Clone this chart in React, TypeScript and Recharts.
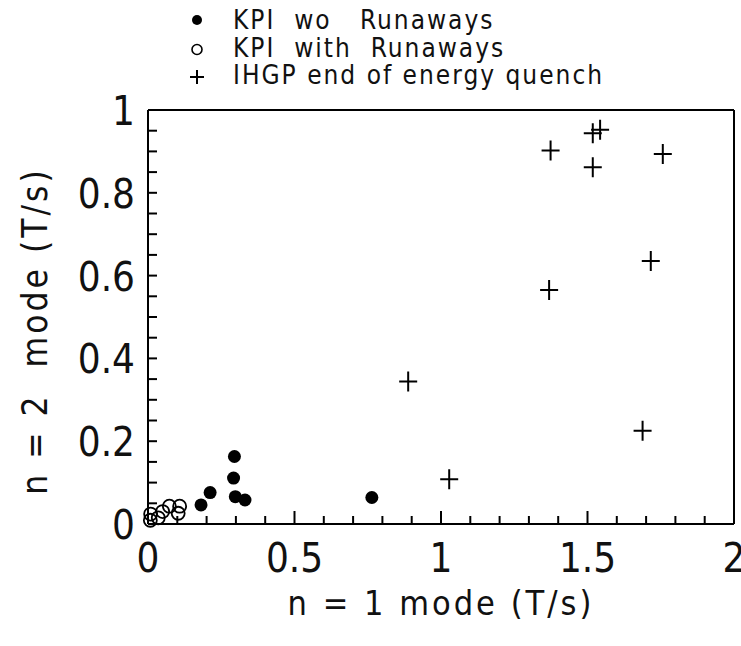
import { ScatterChart, Scatter, XAxis, YAxis, Legend, Label } from "recharts";

const FONT = "'Liberation Sans Narrow', 'DejaVu Sans Condensed', Roboto, sans-serif";

// KPI without runaways (filled dots)
const kpiWoX = [0.181, 0.212, 0.295, 0.292, 0.298, 0.331, 0.764];
const kpiWoY = [0.046, 0.076, 0.163, 0.111, 0.066, 0.058, 0.064];

// KPI with runaways (open circles)
const kpiWithX = [0.008, 0.009, 0.035, 0.05, 0.073, 0.103, 0.108];
const kpiWithY = [0.009, 0.024, 0.015, 0.03, 0.043, 0.026, 0.043];

// IHGP end of energy quench (plus signs)
const ihgpX = [0.888, 1.028, 1.374, 1.369, 1.518, 1.543, 1.518, 1.757, 1.716, 1.688];
const ihgpY = [0.344, 0.108, 0.902, 0.565, 0.944, 0.952, 0.862, 0.894, 0.635, 0.225];

const xTicks = [0, 0.1, 0.2, 0.3, 0.4, 0.5, 0.6, 0.7, 0.8, 0.9, 1, 1.1, 1.2, 1.3, 1.4, 1.5, 1.6, 1.7, 1.8, 1.9, 2];
const xLabels = [0, 0.5, 1, 1.5, 2];
const yTicks = [0, 0.05, 0.1, 0.15, 0.2, 0.25, 0.3, 0.35, 0.4, 0.45, 0.5, 0.55, 0.6, 0.65, 0.7, 0.75, 0.8, 0.85, 0.9, 0.95, 1];
const yLabels = [0, 0.2, 0.4, 0.6, 0.8, 1];

const legendItems = [
  { name: "KPI  wo   Runaways", mark: "dot" },
  { name: "KPI  with  Runaways", mark: "ring" },
  { name: "IHGP end of energy quench", mark: "plus" },
];

const zip = (xs: number[], ys: number[]) => xs.map((x, i) => ({ x, y: ys[i] }));

const isLabel = (v: number, list: number[]) => list.some((l) => Math.abs(l - v) < 1e-6);

function BottomTick({ x, y, payload }: any) {
  const major = isLabel(payload.value, xLabels);
  return (
    <g>
      <line x1={x} y1={y} x2={x} y2={y - (major ? 13 : 8)} stroke="#000" strokeWidth={2} />
      {major && (
        <text x={x} y={y + 48} textAnchor="middle" fontSize={40} fontFamily={FONT} fill="#111">
          {String(payload.value)}
        </text>
      )}
    </g>
  );
}

function TopTick({ x, y, payload }: any) {
  const major = isLabel(payload.value, xLabels);
  return <line x1={x} y1={y} x2={x} y2={y + (major ? 11 : 7)} stroke="#000" strokeWidth={2} />;
}

function LeftTick({ x, y, payload }: any) {
  const major = isLabel(payload.value, yLabels);
  return (
    <g>
      <line x1={x} y1={y} x2={x + 9} y2={y} stroke="#000" strokeWidth={2} />
      {major && (
        <text x={x - 13} y={y + 15} textAnchor="end" fontSize={40} fontFamily={FONT} fill="#111">
          {String(payload.value)}
        </text>
      )}
    </g>
  );
}

function RightTick({ x, y }: any) {
  return <line x1={x} y1={y} x2={x - 9} y2={y} stroke="#000" strokeWidth={2} />;
}

const Dot = (p: any) => <circle cx={p.cx} cy={p.cy} r={6.5} fill="#000" />;
const Ring = (p: any) => <circle cx={p.cx} cy={p.cy} r={6.5} fill="none" stroke="#000" strokeWidth={1.8} />;
const Plus = (p: any) => (
  <path
    d={`M${p.cx - 9},${p.cy}H${p.cx + 9}M${p.cx},${p.cy - 10}V${p.cy + 10}`}
    stroke="#000"
    strokeWidth={2}
    fill="none"
  />
);

function LegendBox() {
  return (
    <svg width={480} height={90}>
      {legendItems.map((it, i) => {
        const cy = 20 + i * 27.5;
        return (
          <g key={it.name}>
            {it.mark === "dot" && <circle cx={12} cy={cy} r={5} fill="#000" />}
            {it.mark === "ring" && <circle cx={12} cy={cy + 2} r={5} fill="none" stroke="#000" strokeWidth={1.6} />}
            {it.mark === "plus" && (
              <path d={`M5,${cy + 2}H19M12,${cy - 5}V${cy + 9}`} stroke="#000" strokeWidth={2} />
            )}
            <text x={48} y={cy + 9} fontSize={26} fontFamily={FONT} letterSpacing={2} fill="#111" style={{ whiteSpace: "pre" }}>
              {it.name}
            </text>
          </g>
        );
      })}
    </svg>
  );
}

function YTitle({ viewBox }: any) {
  const cx = viewBox.x - 112;
  const cy = viewBox.y + viewBox.height / 2 + 14;
  return (
    <text
      transform={`translate(${cx},${cy}) rotate(-90)`}
      textAnchor="middle"
      dominantBaseline="central"
      fontSize={35}
      fontFamily={FONT}
      letterSpacing={3}
      fill="#111"
      style={{ whiteSpace: "pre" }}
    >
      n = 2  mode (T/s)
    </text>
  );
}

export default function App() {
  return (
    <div style={{ position: "absolute", left: 0, top: 0, width: 741, height: 646, background: "#fff" }}>
      <ScatterChart width={741} height={646} margin={{ top: 109, right: 6, bottom: 121, left: 147 }}>
        <XAxis
          type="number"
          dataKey="x"
          domain={[0, 2]}
          ticks={xTicks}
          interval={0}
          height={1}
          tickSize={0}
          tickMargin={0}
          tickLine={false}
          tick={<BottomTick />}
          axisLine={{ stroke: "#000", strokeWidth: 2 }}
        >
          <Label
            value="n = 1 mode   (T/s)"
            position="bottom"
            offset={66}
            fontSize={34}
            fontFamily={FONT}
            fill="#111"
            letterSpacing={3}
            style={{ whiteSpace: "pre" }}
          />
        </XAxis>
        <XAxis
          xAxisId="top"
          orientation="top"
          type="number"
          domain={[0, 2]}
          ticks={xTicks}
          interval={0}
          height={1}
          tickSize={0}
          tickMargin={0}
          tickLine={false}
          tick={<TopTick />}
          axisLine={{ stroke: "#000", strokeWidth: 2 }}
        />
        <YAxis
          type="number"
          dataKey="y"
          domain={[0, 1]}
          ticks={yTicks}
          interval={0}
          width={1}
          tickSize={0}
          tickMargin={0}
          tickLine={false}
          tick={<LeftTick />}
          axisLine={{ stroke: "#000", strokeWidth: 2 }}
        >
          <Label content={YTitle} />
        </YAxis>
        <YAxis
          yAxisId="right"
          orientation="right"
          type="number"
          domain={[0, 1]}
          ticks={yTicks}
          interval={0}
          width={1}
          tickSize={0}
          tickMargin={0}
          tickLine={false}
          tick={<RightTick />}
          axisLine={{ stroke: "#000", strokeWidth: 2 }}
        />
        <Legend
          layout="vertical"
          align="center"
          verticalAlign="middle"
          wrapperStyle={{ top: 0, left: 185, width: 480, height: 90 }}
          content={() => <LegendBox />}
        />
        <Scatter name="KPI wo Runaways" data={zip(kpiWoX, kpiWoY)} shape={Dot} isAnimationActive={false} />
        <Scatter name="KPI with Runaways" data={zip(kpiWithX, kpiWithY)} shape={Ring} isAnimationActive={false} />
        <Scatter name="IHGP end of energy quench" data={zip(ihgpX, ihgpY)} shape={Plus} isAnimationActive={false} />
      </ScatterChart>
    </div>
  );
}
